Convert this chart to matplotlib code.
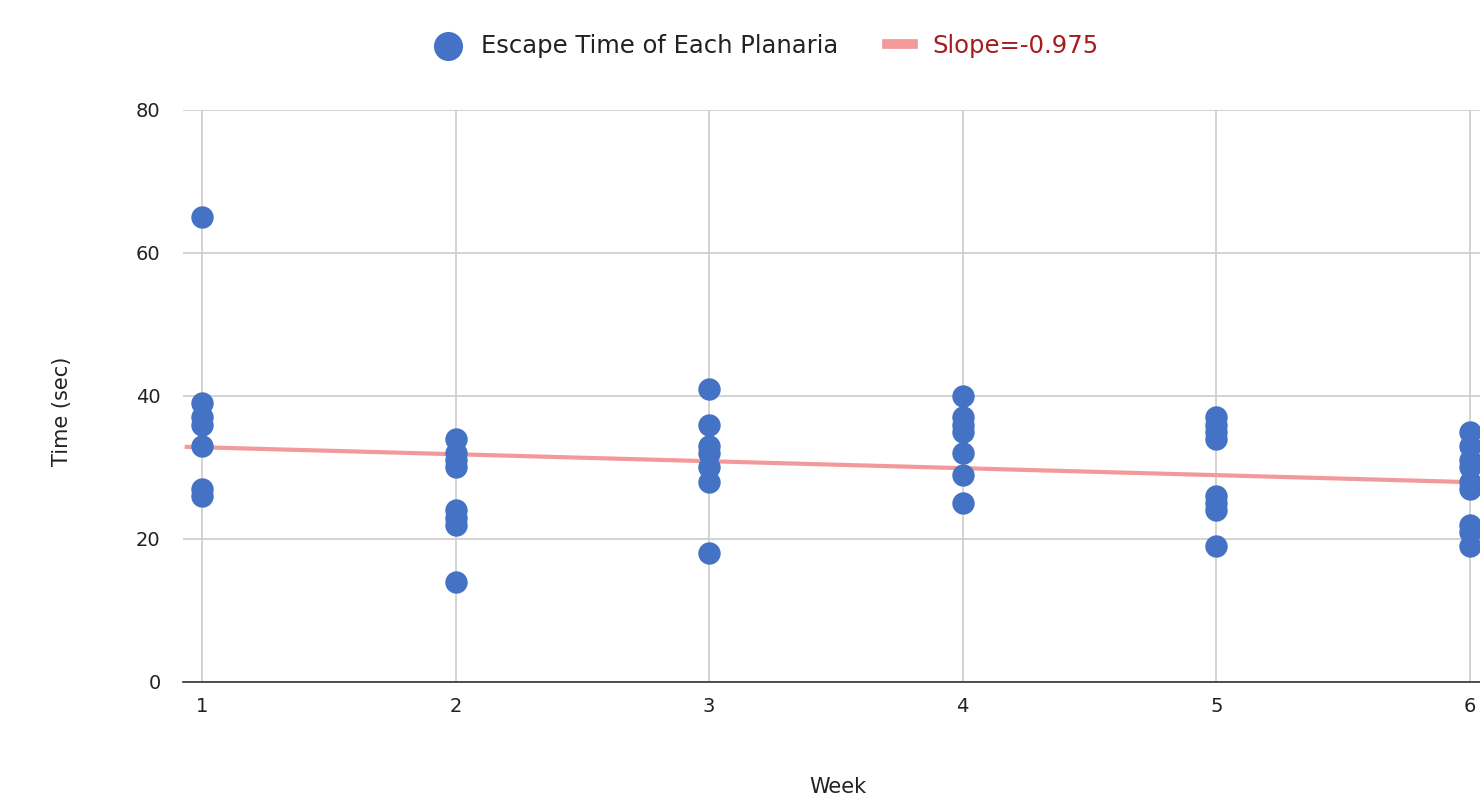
import numpy as np
import matplotlib
matplotlib.use('Agg')
import matplotlib.pyplot as plt

plt.rcParams['font.family'] = ['DejaVu Sans']

# escape times (sec), per week
week1 = [65, 39, 37, 36, 33, 27, 26]
week2 = [34, 32, 31, 30, 24, 23, 22, 14]
week3 = [41, 36, 33, 32, 30, 28, 18]
week4 = [40, 37, 36, 35, 32, 29, 25]
week5 = [37, 36, 35, 34, 26, 25, 24, 19]
week6 = [35, 33, 31, 30, 28, 27, 22, 21, 19]
weeks = [1, 2, 3, 4, 5, 6]
times = [week1, week2, week3, week4, week5, week6]

slope = -0.975
intercept = 33.8

xs = np.concatenate([[w] * len(t) for w, t in zip(weeks, times)])
ys = np.concatenate(times)

fig = plt.figure(figsize=(14.8, 8.01), dpi=100)
ax = fig.add_axes([0.1236, 0.1486, 0.8764, 0.7141])

xfit = np.array([0.94, 6.0])
ax.plot(xfit, intercept + slope * xfit, color='#f4999a', lw=3, zorder=2,
        label='Slope=-0.975')
ax.scatter(xs, ys, s=260, color='#4472c4', zorder=3, linewidths=0,
           label='Escape Time of Each Planaria', clip_on=False)

ax.set_xlim(0.925, 6.04)
ax.set_ylim(0, 80)
ax.set_xticks(weeks)
ax.set_yticks([0, 20, 40, 60, 80])
ax.grid(True, color='#cccccc', lw=1.2)
ax.set_axisbelow(True)
for s in ['top', 'right', 'left']:
    ax.spines[s].set_visible(False)
ax.spines['bottom'].set_color('#333333')
ax.spines['bottom'].set_linewidth(1.2)
ax.tick_params(length=0, labelsize=14, colors='#222222', pad=11)
ax.tick_params(axis='y', pad=16)

# axis titles placed in figure coords
fig.text(0.566, 0.018, 'Week', fontsize=15, color='#222222', ha='center', va='center')
fig.text(0.042, 0.486, 'Time (sec)', fontsize=15, color='#222222', ha='center',
         va='center', rotation=90)

h, l = ax.get_legend_handles_labels()
leg = fig.legend(h[::-1], l[::-1], loc='center', bbox_to_anchor=(0.518, 0.943),
                 ncol=2, frameon=False, fontsize=17.5, handlelength=1.1,
                 handletextpad=0.8, columnspacing=2.0, markerscale=1.3)
leg.legend_handles[1].set_linewidth(7)
leg.get_texts()[1].set_color('#a61c1c')
leg.get_texts()[0].set_color('#222222')

plt.savefig('out.png', dpi=100)
